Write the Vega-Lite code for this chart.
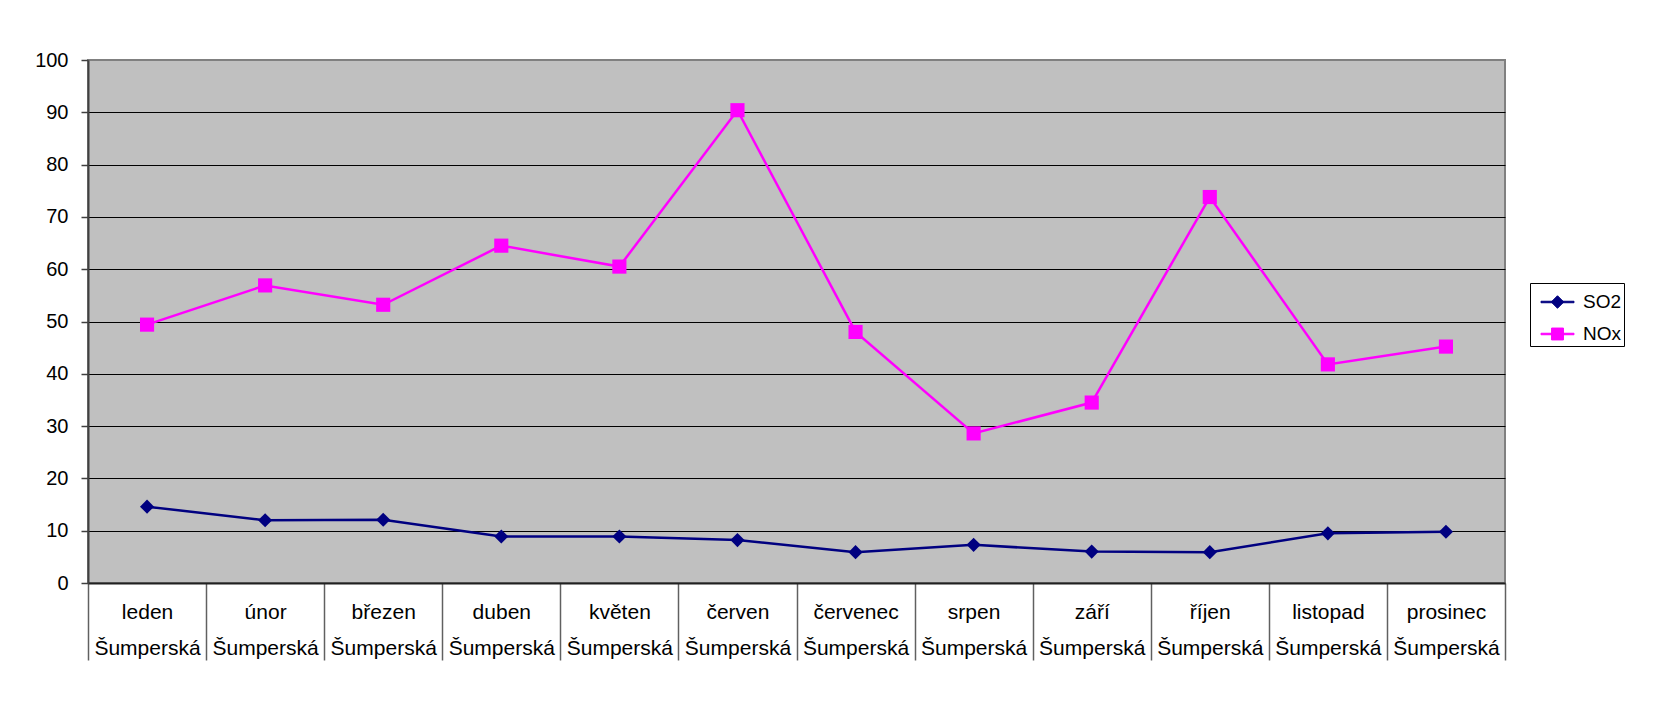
{
  "$schema": "https://vega.github.io/schema/vega-lite/v6.json",
  "autosize": {"type": "none"},
  "width": 1417,
  "height": 523,
  "padding": {"left": 88, "top": 60, "right": 153, "bottom": 118},
  "background": "white",
  "config": {
    "view": {"fill": "#C0C0C0", "stroke": "#808080", "strokeWidth": 2},
    "font": "Liberation Sans"
  },
  "data": {
    "values": [
      {"month": "leden", "series": "SO2", "value": 14.6},
      {"month": "únor", "series": "SO2", "value": 12.0},
      {"month": "březen", "series": "SO2", "value": 12.1},
      {"month": "duben", "series": "SO2", "value": 8.9},
      {"month": "květen", "series": "SO2", "value": 8.9},
      {"month": "červen", "series": "SO2", "value": 8.2},
      {"month": "červenec", "series": "SO2", "value": 5.9},
      {"month": "srpen", "series": "SO2", "value": 7.3},
      {"month": "září", "series": "SO2", "value": 6.0},
      {"month": "říjen", "series": "SO2", "value": 5.9},
      {"month": "listopad", "series": "SO2", "value": 9.5},
      {"month": "prosinec", "series": "SO2", "value": 9.8},
      {"month": "leden", "series": "NOx", "value": 49.4},
      {"month": "únor", "series": "NOx", "value": 56.9},
      {"month": "březen", "series": "NOx", "value": 53.2},
      {"month": "duben", "series": "NOx", "value": 64.5},
      {"month": "květen", "series": "NOx", "value": 60.5},
      {"month": "červen", "series": "NOx", "value": 90.4},
      {"month": "červenec", "series": "NOx", "value": 48.0},
      {"month": "srpen", "series": "NOx", "value": 28.6},
      {"month": "září", "series": "NOx", "value": 34.5},
      {"month": "říjen", "series": "NOx", "value": 73.8},
      {"month": "listopad", "series": "NOx", "value": 41.8},
      {"month": "prosinec", "series": "NOx", "value": 45.2}
    ]
  },
  "encoding": {
    "x": {
      "field": "month",
      "type": "nominal",
      "sort": ["leden", "únor", "březen", "duben", "květen", "červen", "červenec", "srpen", "září", "říjen", "listopad", "prosinec"],
      "scale": {"type": "band", "paddingInner": 0, "paddingOuter": 0},
      "axis": {
        "title": null,
        "labelAngle": 0,
        "tickBand": "extent",
        "tickSize": 77,
        "tickColor": "#606060",
        "tickWidth": 1.5,
        "domainColor": "#202020",
        "domainWidth": 2,
        "labelFontSize": 21,
        "labelFont": "Liberation Sans",
        "labelColor": "black",
        "labelExpr": "datum.label ? [datum.label, 'Šumperská'] : ''",
        "labelLineHeight": 36,
        "labelBaseline": "middle",
        "labelPadding": -48,
        "labelOverlap": false,
        "labelFlush": false,
        "grid": false
      }
    },
    "y": {
      "field": "value",
      "type": "quantitative",
      "scale": {"domain": [0, 100], "nice": false},
      "axis": {
        "title": null,
        "values": [0, 10, 20, 30, 40, 50, 60, 70, 80, 90, 100],
        "grid": true,
        "gridColor": {"condition": {"test": "datum.value === 100 || datum.value === 0", "value": "#808080"}, "value": "black"},
        "gridWidth": 1,
        "domainColor": "#404040",
        "domainWidth": 2,
        "tickColor": "#404040",
        "tickSize": 7,
        "tickWidth": 1.5,
        "labelFontSize": 20,
        "labelFont": "Liberation Sans",
        "labelColor": "black",
        "labelPadding": 13
      }
    }
  },
  "layer": [
    {
      "mark": {"type": "line", "strokeWidth": 2.5},
      "encoding": {
        "color": {
          "field": "series",
          "type": "nominal",
          "scale": {"domain": ["SO2", "NOx"], "range": ["#000080", "#FF00FF"]},
          "legend": {
            "title": null,
            "orient": "none",
            "legendX": 1442,
            "legendY": 223,
            "strokeColor": "black",
            "fillColor": "white",
            "padding": 2,
            "symbolOffset": 8.5,
            "labelOffset": 8.5,
            "labelFontSize": 19,
            "labelFont": "Liberation Sans",
            "labelColor": "black",
            "labelExpr": "datum.label + '  '",
            "rowPadding": 5,
            "symbolSize": 1089,
            "symbolStrokeWidth": 1,
            "symbolType": {"expr": "datum.value === 'SO2' ? 'M-1,-0.045L1,-0.045L1,0.045L-1,0.045ZM-0.38,0L0,-0.38L0.38,0L0,0.38Z' : 'M-1,-0.045L1,-0.045L1,0.045L-1,0.045ZM-0.36,-0.36L0.36,-0.36L0.36,0.36L-0.36,0.36Z'"},
            "symbolFillColor": {"expr": "datum.value === 'SO2' ? '#000080' : '#FF00FF'"},
            "symbolStrokeColor": {"expr": "datum.value === 'SO2' ? '#000080' : '#FF00FF'"}
          }
        }
      }
    },
    {
      "transform": [{"filter": "datum.series === 'SO2'"}],
      "mark": {"type": "point", "filled": true, "opacity": 1, "size": 200, "shape": "diamond", "color": "#000080"}
    },
    {
      "transform": [{"filter": "datum.series === 'NOx'"}],
      "mark": {"type": "point", "filled": true, "opacity": 1, "size": 200, "shape": "square", "color": "#FF00FF"}
    }
  ]
}
